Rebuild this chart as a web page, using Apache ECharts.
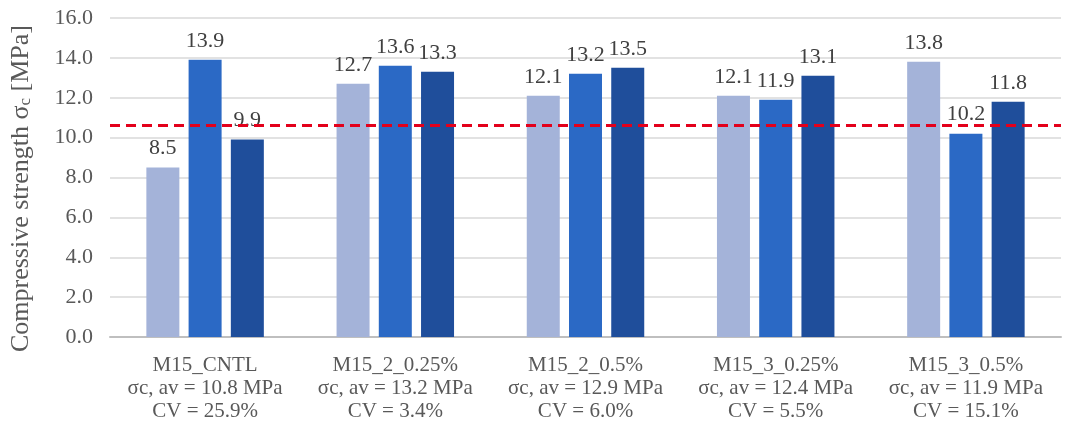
<!DOCTYPE html>
<html>
<head>
<meta charset="utf-8">
<script src="https://cdn.jsdelivr.net/npm/echarts@6/dist/echarts.min.js"></script>
<style>
html,body{margin:0;padding:0;background:#fff;}
#chart{width:1066px;height:425px;}
</style>
</head>
<body>
<div id="chart"></div>
<script>
const mixes = ['M15_CNTL', 'M15_2_0.25%', 'M15_2_0.5%', 'M15_3_0.25%', 'M15_3_0.5%'];
const averages = ['10.8', '13.2', '12.9', '12.4', '11.9'];
const cvs = ['25.9', '3.4', '6.0', '5.5', '15.1'];
const specimen1 = [8.5, 12.7, 12.1, 12.1, 13.8];
const specimen2 = [13.9, 13.6, 13.2, 11.9, 10.2];
const specimen3 = [9.9, 13.3, 13.5, 13.1, 11.8];
const referenceLine = 10.6;
const yTicks = {min: 0, max: 16, interval: 2};

const categories = mixes.map((m, i) => m + '\nσc, av = ' + averages[i] + ' MPa\nCV = ' + cvs[i] + '%');
const serif = '"Liberation Serif", "DejaVu Serif", serif';
const colors = ['#a4b3d9', '#2b69c5', '#1f4e9b'];

function bar(data, color, withLine) {
  const s = {
    type: 'bar',
    data: data,
    barWidth: 33,
    barGap: '28%',
    itemStyle: {color: color},
    label: {
      show: true, position: 'top', distance: 8,
      fontFamily: serif, fontSize: 22, color: '#404040',
      formatter: p => p.value.toFixed(1)
    }
  };
  if (withLine) {
    s.markLine = {
      silent: true, symbol: 'none',
      label: {show: false},
      lineStyle: {color: '#e3001b', type: [10, 6], width: 3},
      data: [{yAxis: referenceLine}]
    };
  }
  return s;
}

const chart = echarts.init(document.getElementById('chart'));
chart.setOption({
  animation: false,
  grid: {left: 104, right: 5, top: 18, bottom: 88},
  xAxis: {
    type: 'category',
    data: categories,
    axisTick: {show: false},
    axisLine: {lineStyle: {color: '#bfbfbf', width: 2}},
    axisLabel: {
      interval: 0, margin: 17, fontFamily: serif, fontSize: 21,
      lineHeight: 23, color: '#595959', align: 'center'
    }
  },
  yAxis: {
    type: 'value',
    min: yTicks.min, max: yTicks.max, interval: yTicks.interval,
    axisLine: {show: false},
    axisTick: {show: false},
    splitLine: {lineStyle: {color: '#d9d9d9', width: 1.5}},
    axisLabel: {
      margin: 17, fontFamily: serif, fontSize: 22, color: '#595959',
      formatter: v => v.toFixed(1)
    },
    name: '{a|Compressive strength σ}{b|c}{a| [MPa]}',
    nameLocation: 'middle',
    nameRotate: 90,
    nameGap: 76,
    nameTextStyle: {
      padding: [0, 22, 0, 0],
      rich: {
        a: {fontFamily: serif, fontSize: 26, color: '#595959'},
        b: {fontFamily: serif, fontSize: 17, color: '#595959', verticalAlign: 'bottom', padding: [9, 0, 0, 0]}
      }
    }
  },
  series: [
    bar(specimen1, colors[0], true),
    bar(specimen2, colors[1], false),
    bar(specimen3, colors[2], false)
  ]
});
</script>
</body>
</html>
